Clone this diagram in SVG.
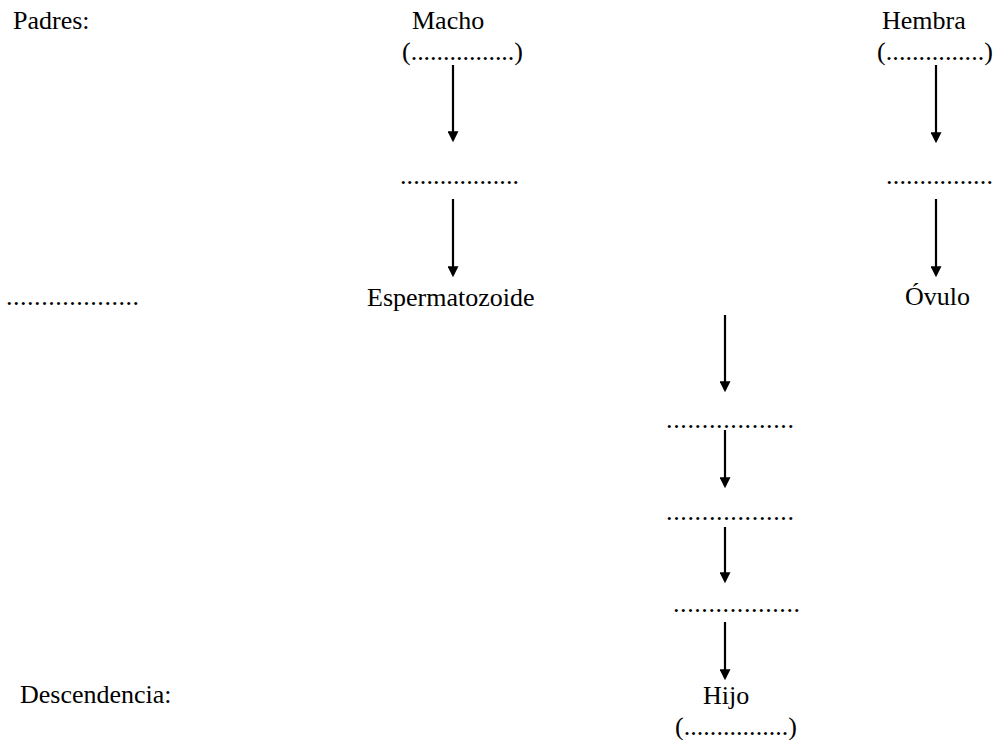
<svg xmlns="http://www.w3.org/2000/svg" width="993" height="740" viewBox="0 0 993 740" font-family="'Liberation Serif', 'Times New Roman', serif">
<style>
text{font-family:'Liberation Serif','Times New Roman',serif;font-size:26px;fill:#000}
.ar{stroke:#000;stroke-width:2.2;fill:none;marker-end:url(#ah)}
</style>
<defs>
<marker id="ah" viewBox="0 0 10 10" refX="8" refY="5" markerWidth="11" markerHeight="11" markerUnits="userSpaceOnUse" orient="auto">
<path d="M0,0 L10,5 L0,10 z" fill="#000"/>
</marker>
</defs>
<rect width="993" height="740" fill="#fff"/>
<g id="padres"><text x="13" y="29">Padres:</text></g>
<g id="macho"><text x="412" y="29">Macho</text><text x="402" y="60" textLength="121" lengthAdjust="spacing">(................)</text></g>
<g id="hembra"><text x="882" y="29">Hembra</text><text x="877" y="60" textLength="116" lengthAdjust="spacing">(...............)</text></g>
<g id="macho-mid"><text x="400" y="184" textLength="119" lengthAdjust="spacing">..................</text></g>
<g id="hembra-mid"><text x="886" y="184" textLength="107" lengthAdjust="spacing">................</text></g>
<g id="left-dots"><text x="6" y="305" textLength="133" lengthAdjust="spacing">...................</text></g>
<g id="espermatozoide"><text x="367" y="306">Espermatozoide</text></g>
<g id="ovulo"><text x="905" y="305">Óvulo</text></g>
<g id="cigoto"><text x="666" y="428" textLength="128" lengthAdjust="spacing">..................</text></g>
<g id="paso2"><text x="666" y="520" textLength="128" lengthAdjust="spacing">..................</text></g>
<g id="paso3"><text x="673" y="612" textLength="127" lengthAdjust="spacing">..................</text></g>
<g id="hijo"><text x="703" y="704">Hijo</text><text x="675" y="735" textLength="122" lengthAdjust="spacing">(................)</text></g>
<g id="descendencia"><text x="20" y="703">Descendencia:</text></g>
<g id="connectors">
<line class="ar" x1="453" y1="65" x2="453" y2="140"/>
<line class="ar" x1="453" y1="199" x2="453" y2="275"/>
<line class="ar" x1="936" y1="65" x2="936" y2="141"/>
<line class="ar" x1="936" y1="199" x2="936" y2="275"/>
<line class="ar" x1="725" y1="315" x2="725" y2="390"/>
<line class="ar" x1="725" y1="430" x2="725" y2="486"/>
<line class="ar" x1="725" y1="527" x2="725" y2="581"/>
<line class="ar" x1="725" y1="622" x2="725" y2="678"/>
</g>
</svg>
